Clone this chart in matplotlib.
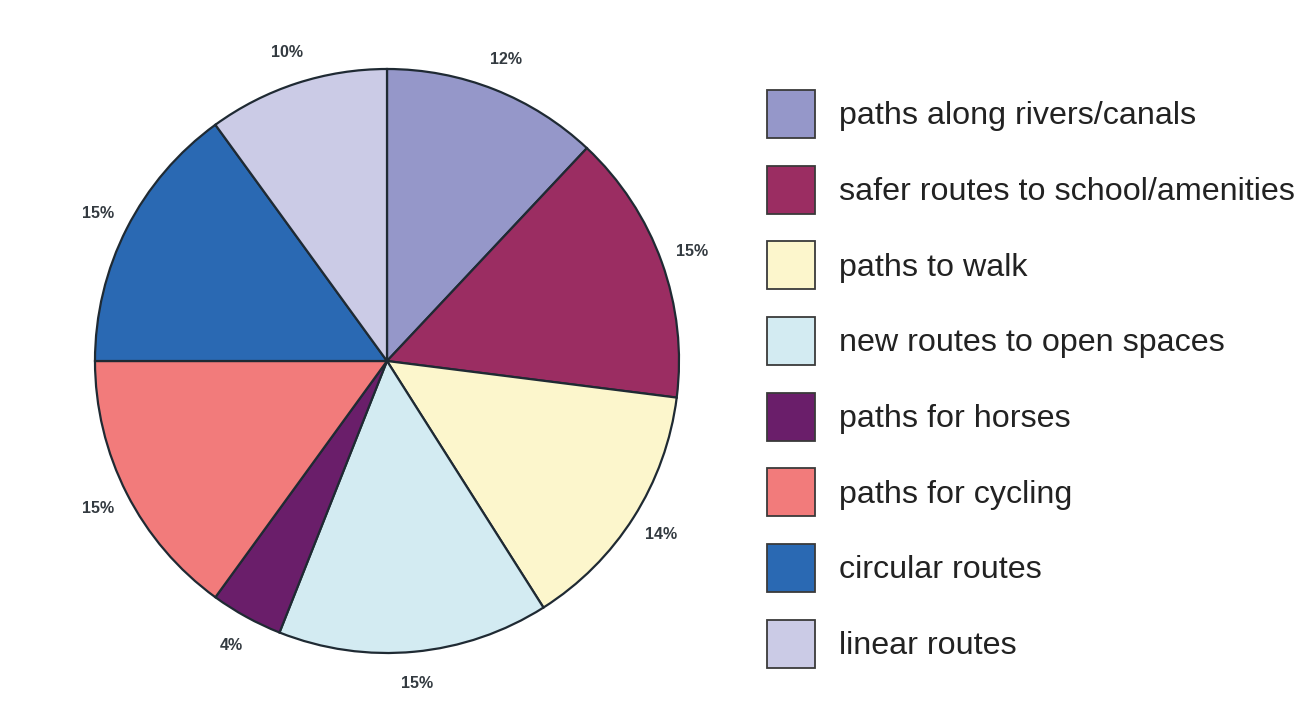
import matplotlib.pyplot as plt

# data
categories = [
    "paths along rivers/canals",
    "safer routes to school/amenities",
    "paths to walk",
    "new routes to open spaces",
    "paths for horses",
    "paths for cycling",
    "circular routes",
    "linear routes",
]
shares = [12, 15, 14, 15, 4, 15, 15, 10]
colours = ["#9597c9", "#9b2d62", "#fcf6cc", "#d3ebf2",
           "#6a1e6a", "#f27b7b", "#2a69b3", "#cbcbe6"]

plt.rcParams['font.family'] = ['Liberation Sans', 'DejaVu Sans']

fig = plt.figure(figsize=(13.12, 7.15), dpi=100)
W, H = 1312, 715
cx, cy, r = 387, 361, 292
ax = fig.add_axes([(cx - r) / W, (H - cy - r) / H, 2 * r / W, 2 * r / H])

wedges, texts, pcts = ax.pie(
    shares, colors=colours, startangle=90, counterclock=False,
    autopct=lambda p: f"{p:.0f}%", pctdistance=1.11,
    wedgeprops=dict(edgecolor="#1f2a33", linewidth=1.6),
    textprops=dict(fontsize=11.5, fontweight="bold", color="#333a40"),
)
ax.set_xlim(-1, 1)
ax.set_ylim(-1, 1)
ax.set_aspect("equal")

leg = fig.legend(wedges, categories, loc="upper left",
                 bbox_to_anchor=(754 / W, 1 - 77 / H), frameon=False,
                 fontsize=23.2, handlelength=1.49, handleheight=1.917,
                 labelspacing=0.857, handletextpad=0.745, borderaxespad=0,
                 labelcolor="#222222")
for h in leg.legend_handles:
    h.set_edgecolor("#3a3a3a")
    h.set_linewidth(1.3)

fig.savefig("out.png", dpi=100)
